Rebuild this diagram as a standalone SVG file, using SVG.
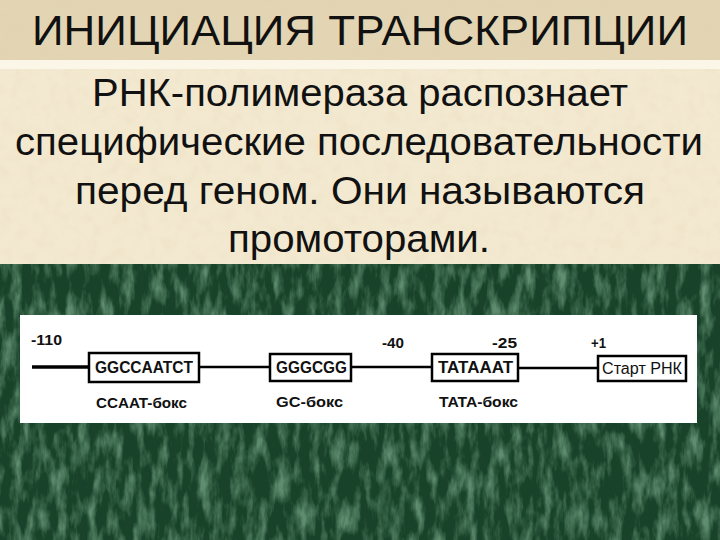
<svg xmlns="http://www.w3.org/2000/svg" width="720" height="540" viewBox="0 0 720 540">
  <defs>
    <filter id="greenTex" x="0" y="0" width="100%" height="100%">
      <feTurbulence type="fractalNoise" baseFrequency="0.09 0.03" numOctaves="4" seed="7" result="n"/>
      <feColorMatrix in="n" type="matrix" values="0 0 0 0 0.33  0 0 0 0 0.6  0 0 0 0 0.4  0 0 0 2.4 -1.0" result="c"/>
      <feComposite in="c" in2="SourceGraphic" operator="in"/>
    </filter>
    <filter id="beigeTex" x="0" y="0" width="100%" height="100%">
      <feTurbulence type="fractalNoise" baseFrequency="0.08" numOctaves="3" seed="3" result="n"/>
      <feColorMatrix in="n" type="matrix" values="0 0 0 0 0.75  0 0 0 0 0.65  0 0 0 0 0.45  0 0 0 1.2 -0.5" result="c"/>
      <feComposite in="c" in2="SourceGraphic" operator="in"/>
    </filter>
    <style>
      .head { font-family: "Liberation Sans", Arial, sans-serif; font-size: 43px; fill: #111; }
      .body { font-family: "Liberation Sans", Arial, sans-serif; font-size: 38px; fill: #111; }
      .lbl { font-family: "Liberation Sans", Arial, sans-serif; font-size: 15.5px; font-weight: bold; fill: #111; }
      .seq { font-family: "Liberation Sans", Arial, sans-serif; font-size: 16px; font-weight: bold; fill: #111; }
      .reg { font-family: "Liberation Sans", Arial, sans-serif; font-size: 16px; fill: #111; }
      .box { fill: #fff; stroke: #000; stroke-width: 2.5; }
      .dna { stroke: #000; stroke-width: 2.5; fill: none; }
    </style>
  </defs>

  <!-- backgrounds -->
  <rect x="0" y="264" width="720" height="276" fill="#18432a"/>
  <rect x="0" y="264" width="720" height="276" fill="#18432a" filter="url(#greenTex)" opacity="0.55"/>
  <rect x="0" y="0" width="720" height="60" fill="#e3d5b3"/>
  <rect x="0" y="0" width="720" height="60" fill="#e3d5b3" filter="url(#beigeTex)" opacity="0.6"/>
  <rect x="0" y="60" width="720" height="9" fill="#fbf6e8"/>
  <rect x="0" y="69" width="720" height="195" fill="#f3e9d0"/>
  <rect x="0" y="69" width="720" height="195" fill="#f3e9d0" filter="url(#beigeTex)" opacity="0.35"/>

  <!-- title and paragraph -->
  <g id="title">
    <text class="head" x="32" y="45" textLength="656" lengthAdjust="spacingAndGlyphs">ИНИЦИАЦИЯ ТРАНСКРИПЦИИ</text>
  </g>
  <g id="paragraph">
    <text class="body" x="92" y="106" textLength="536" lengthAdjust="spacingAndGlyphs">РНК-полимераза распознает</text>
    <text class="body" x="15" y="155" textLength="688" lengthAdjust="spacingAndGlyphs">специфические последовательности</text>
    <text class="body" x="75" y="204" textLength="570" lengthAdjust="spacingAndGlyphs">перед геном. Они называются</text>
    <text class="body" x="228" y="252" textLength="262" lengthAdjust="spacingAndGlyphs">промоторами.</text>
  </g>

  <!-- diagram panel -->
  <rect x="20" y="315" width="677" height="108" fill="#fff"/>

  <g id="connectors">
    <line x1="32" y1="367" x2="89" y2="367" stroke="#000" stroke-width="3.5"/>
    <line class="dna" x1="199" y1="367" x2="270" y2="367"/>
    <line class="dna" x1="351" y1="367" x2="432" y2="367"/>
    <line class="dna" x1="518" y1="368" x2="598" y2="368"/>
  </g>

  <g id="positions">
    <text class="lbl" x="31" y="345" textLength="31" lengthAdjust="spacingAndGlyphs">-110</text>
    <text class="lbl" x="382" y="348" textLength="22" lengthAdjust="spacingAndGlyphs">-40</text>
    <text class="lbl" x="492" y="348" textLength="25" lengthAdjust="spacingAndGlyphs">-25</text>
    <text class="lbl" x="591" y="348" textLength="15" lengthAdjust="spacingAndGlyphs">+1</text>
  </g>

  <g id="ccaat">
    <rect class="box" x="89" y="353" width="110" height="29"/>
    <text class="seq" x="95" y="373" textLength="98" lengthAdjust="spacingAndGlyphs">GGCCAATCT</text>
    <text class="lbl" x="96" y="408" textLength="91" lengthAdjust="spacingAndGlyphs">CCAAT-бокс</text>
  </g>

  <g id="gc">
    <rect class="box" x="270" y="354" width="81" height="27"/>
    <text class="seq" x="276" y="373" textLength="71" lengthAdjust="spacingAndGlyphs">GGGCGG</text>
    <text class="lbl" x="276" y="407" textLength="67" lengthAdjust="spacingAndGlyphs">GC-бокс</text>
  </g>

  <g id="tata">
    <rect class="box" x="432" y="354" width="86" height="27"/>
    <text class="seq" x="438" y="373" textLength="75" lengthAdjust="spacingAndGlyphs">TATAAAT</text>
    <text class="lbl" x="439" y="407" textLength="79" lengthAdjust="spacingAndGlyphs">TATA-бокс</text>
  </g>

  <g id="start">
    <rect class="box" x="598" y="356" width="88" height="25"/>
    <text class="reg" x="602" y="374" textLength="80" lengthAdjust="spacingAndGlyphs">Старт РНК</text>
  </g>
</svg>
